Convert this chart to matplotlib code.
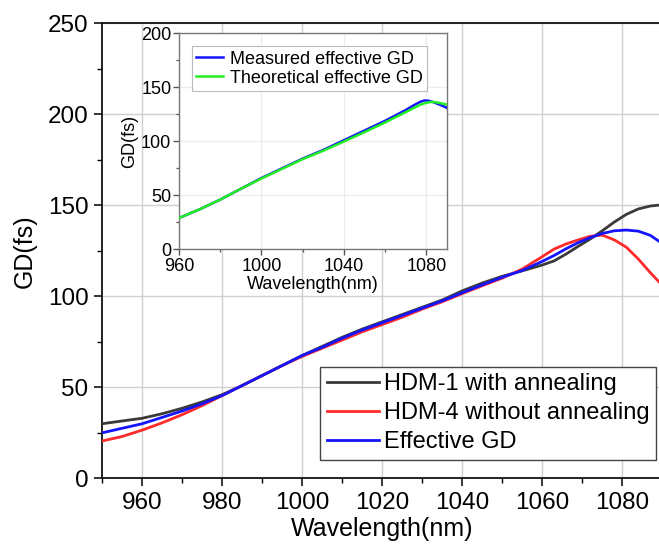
import matplotlib
matplotlib.use("Agg")
import matplotlib.pyplot as plt
from matplotlib.ticker import MultipleLocator

plt.rcParams['font.family'] = ['Liberation Sans', 'DejaVu Sans']

# ---------------- data ----------------
wl_main = [950, 955, 960, 965, 970, 975, 980, 985, 990, 995, 1000, 1005, 1010,
           1015, 1020, 1025, 1030, 1035, 1040, 1045, 1050, 1055, 1060, 1063,
           1066, 1069, 1072, 1075, 1078, 1081, 1084, 1087, 1090]
gd_hdm1 = [30, 31.5, 33, 35.5, 38.5, 42, 46, 51, 56.5, 62, 67.5, 72.5, 77.5,
           82, 86, 90, 94, 98, 103, 107.3, 111, 114, 117.2, 119.5,
           123.3, 127.5, 131.5, 136, 140.8, 145, 148, 149.6, 150.3]
gd_hdm4 = [20.5, 23, 26.5, 30.5, 35, 40, 45.5, 51, 56.5, 62, 67, 71.5, 76,
           80.5, 84.5, 88.5, 93, 97, 101.5, 105.8, 110, 115, 121.8, 126,
           128.8, 131, 133, 133.6, 131, 127, 120.5, 113, 106]
gd_eff = [25, 27.5, 30, 33.5, 37, 41, 45.5, 51, 56.5, 62, 67.5, 72, 77,
          81.5, 85.5, 89.5, 93.5, 97.5, 102, 106.3, 110.5, 114.2, 119.2, 122.5,
          126.2, 129.5, 132.3, 134.5, 136, 136.4, 135.8, 133.5, 129]

wl_meas = [960, 970, 980, 990, 1000, 1010, 1020, 1030, 1040, 1050, 1060,
           1070, 1074, 1077, 1079, 1081, 1083, 1085, 1087, 1090]
gd_measured = [29, 37, 46, 56, 66, 75, 84, 92, 101, 110, 119, 129, 133.5,
               136.5, 137.8, 137.6, 136.5, 135, 133.5, 131]
wl_theo = [960, 970, 980, 990, 1000, 1010, 1020, 1030, 1040, 1050, 1060,
           1070, 1074, 1077, 1080, 1082, 1084, 1086, 1088, 1090]
gd_theory = [29, 37, 46, 56, 65.5, 74.5, 83.5, 91.3, 99.8, 108.5, 117.5,
             127, 131, 133.8, 135.7, 136.4, 136.3, 135.6, 134.8, 134]

main_labels = ["HDM-1 with annealing", "HDM-4 without annealing", "Effective GD"]
inset_labels = ["Measured effective GD", "Theoretical effective GD"]

# ---------------- figure ----------------
W, H = 659, 547
fig = plt.figure(figsize=(W / 100, H / 100), dpi=100)

ax = fig.add_axes([102.3 / W, (H - 478.3) / H, 560 / W, 455 / H])
ax.plot(wl_main, gd_hdm1, color='#3a3a3a', lw=2.0, label=main_labels[0], zorder=3)
ax.plot(wl_main, gd_hdm4, color='#ff2a2a', lw=2.0, label=main_labels[1], zorder=3)
ax.plot(wl_main, gd_eff, color='#1414ff', lw=2.0, label=main_labels[2], zorder=4)
ax.set_xlim(950, 1090)
ax.set_ylim(0, 250)
ax.xaxis.set_minor_locator(MultipleLocator(10))
ax.yaxis.set_major_locator(MultipleLocator(50))
ax.yaxis.set_minor_locator(MultipleLocator(25))
ax.set_xticks([960, 980, 1000, 1020, 1040, 1060, 1080])
ax.grid(True, which='major', color='#d0d0d0', lw=1.0, zorder=0)
ax.tick_params(which='major', direction='out', length=6, width=1.1,
               labelsize=17.5, pad=4, color='black')
ax.tick_params(which='minor', direction='out', length=3.5, width=1.0, color='black')
for s in ax.spines.values():
    s.set_linewidth(1.3)
    s.set_color('#111111')
ax.set_xlabel("Wavelength(nm)", fontsize=18, labelpad=2)
ax.set_ylabel("GD(fs)", fontsize=18, labelpad=8)

leg = ax.legend(loc='upper left', bbox_to_anchor=(320 / W, 1 - 366.7 / H),
                bbox_transform=fig.transFigure, fontsize=17, frameon=True,
                fancybox=False, framealpha=1, edgecolor='#444444',
                handlelength=2.2, handletextpad=0.22, labelspacing=0.3,
                borderpad=0.28, borderaxespad=0)
leg.get_frame().set_linewidth(1.0)

# ---------------- inset ----------------
axi = fig.add_axes([179 / W, (H - 249.3) / H, 268 / W, 216 / H])
axi.set_facecolor('white')
axi.plot(wl_meas, gd_measured, color='#1414ff', lw=1.8, label=inset_labels[0], zorder=3)
axi.plot(wl_theo, gd_theory, color='#22ee22', lw=1.8, label=inset_labels[1], zorder=4)
axi.set_xlim(960, 1090)
axi.set_ylim(0, 200)
axi.xaxis.set_major_locator(MultipleLocator(40))
axi.xaxis.set_minor_locator(MultipleLocator(20))
axi.yaxis.set_major_locator(MultipleLocator(50))
axi.yaxis.set_minor_locator(MultipleLocator(25))
axi.grid(True, which='major', color='#ececec', lw=0.9, zorder=0)
axi.tick_params(which='major', direction='out', length=4, width=1.0,
                labelsize=13, color='#555555')
axi.tick_params(axis='x', which='major', pad=2.5)
axi.tick_params(axis='y', which='major', pad=1.5)
axi.tick_params(which='minor', direction='out', length=2.5, width=0.9, color='#555555')
for s in axi.spines.values():
    s.set_linewidth(1.0)
    s.set_color('#777777')
axi.set_xlabel("Wavelength(nm)", fontsize=13, labelpad=0.5)
axi.set_ylabel("GD(fs)", fontsize=13, labelpad=2)

legi = axi.legend(loc='upper left', bbox_to_anchor=(191.7 / W, 1 - 46 / H),
                  bbox_transform=fig.transFigure, fontsize=13, frameon=True,
                  fancybox=False, framealpha=1, edgecolor='#bbbbbb',
                  handlelength=1.5, handletextpad=0.35, labelspacing=0.12,
                  borderpad=0.25, borderaxespad=0)
legi.get_frame().set_linewidth(0.8)

fig.savefig("out.png", dpi=100)
